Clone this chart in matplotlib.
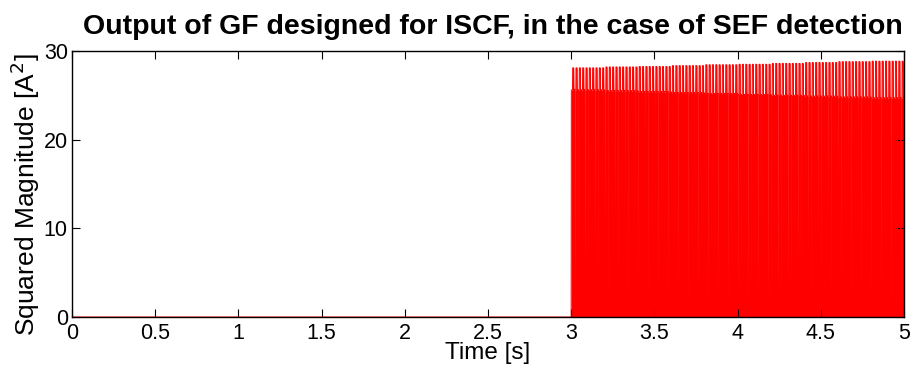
import numpy as np
import matplotlib
matplotlib.use('Agg')
import matplotlib.pyplot as plt

plt.rcParams['font.family'] = ['Liberation Sans', 'DejaVu Sans']

# Signal: quiet until the fault at 3 s, then a 50 Hz ripple
t_quiet = [0.0, 3.0]
y_quiet = [0.0, 0.0]
fault_start = 3.0
ripple_period = 0.02  # s, 50 Hz
cycles_per_block = 10
# level of the wide body and of the narrow peak, one value per 0.2 s block
body_level = [25.6, 25.5, 25.4, 25.3, 25.2, 25.1, 25.0, 24.9, 24.8, 24.7]
peak_level = [28.1, 28.2, 28.25, 28.35, 28.45, 28.5, 28.6, 28.7, 28.8, 28.85]
# shape of one ripple cycle: (fraction of the period, which level)
cycle_shape = [(0.0, 'zero'), (0.05, 'body'), (0.40, 'body'), (0.45, 'peak'),
               (0.75, 'peak'), (0.80, 'body'), (1.0, 'body')]

x_ticks = [0, 0.5, 1, 1.5, 2, 2.5, 3, 3.5, 4, 4.5, 5]
x_tick_labels = ['0', '0.5', '1', '1.5', '2', '2.5', '3', '3.5', '4', '4.5', '5']
y_ticks = [0, 10, 20, 30]


def build_signal():
  t = list(t_quiet)
  y = list(y_quiet)
  n = 0
  for body, peak in zip(body_level, peak_level):
    for k in range(cycles_per_block):
      t0 = fault_start + n * ripple_period
      levels = {'zero': 0.0, 'body': body, 'peak': peak}
      for frac, name in cycle_shape:
        t.append(t0 + frac * ripple_period)
        y.append(levels[name])
      n += 1
  t.append(t[-1])
  y.append(0.0)
  return np.array(t), np.array(y)


def main():
  t, y = build_signal()

  fig = plt.figure(figsize=(9.12, 3.72), dpi=100)
  ax = fig.add_axes([0.0789, 0.1478, 0.9123, 0.7151])

  ax.fill_between(t, 0, y, color='#ff0000', linewidth=0)
  ax.plot(t, y, color='#ff0000', linewidth=0.7)

  ax.set_xlim(0, 5)
  ax.set_ylim(0, 30)
  ax.set_xticks(x_ticks)
  ax.set_xticklabels(x_tick_labels)
  ax.set_yticks(y_ticks)
  ax.tick_params(direction='in', length=6, width=0.8, labelsize=15.5, top=True, right=True)
  ax.tick_params(axis='x', pad=4)
  ax.tick_params(axis='y', pad=3)  # keeps the two corner zeros apart
  for s in ax.spines.values():
    s.set_linewidth(1.0)

  ax.set_xlabel('Time [s]', fontsize=17.5, labelpad=-1)
  ax.set_ylabel('Squared Magnitude [A$^2$]', fontsize=19)
  ax.yaxis.set_label_coords(-0.036, 0.459)  # MATLAB puts it a bit lower
  ax.set_title('Output of GF designed for ISCF, in the case of SEF detection',
               fontsize=20.5, fontweight='bold', pad=12, x=0.506)

  fig.savefig('out.png', dpi=100)


if __name__ == '__main__':
  main()
